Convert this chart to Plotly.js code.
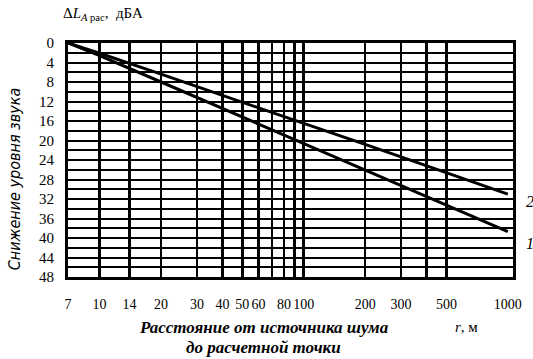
<!DOCTYPE html>
<html>
<head>
<meta charset="utf-8">
<script src="https://cdn.plot.ly/plotly-3.0.1.min.js"></script>
<style>html,body{margin:0;padding:0;background:#fff;}#chart{width:533px;height:359px;}</style>
</head>
<body>
<div id="chart"></div>
<script>
// Distance r, m
const distance = [7, 10, 20, 50, 100, 200, 500, 1000];
// Curve 1 (steeper) reduction, dBA
const curve1 = [0, 2.6, 8.0, 15.2, 20.7, 26.1, 33.3, 38.7];
// Curve 2 (shallower) reduction, dBA
const curve2 = [0, 2.1, 6.4, 12.2, 16.5, 20.8, 26.6, 31.0];
// Axis labels and grid positions
const xTickVals = [7, 10, 14, 20, 30, 40, 50, 60, 80, 100, 200, 300, 500, 1000];
const xGridVals = [10, 14, 20, 30, 40, 50, 60, 70, 80, 90, 100, 200, 300, 400, 500];
const yTickVals = [0, 4, 8, 12, 16, 20, 24, 28, 32, 36, 40, 44, 48];
const yGridVals = [2, 4, 6, 8, 10, 12, 14, 16, 18, 20, 22, 24, 26, 28, 30, 32, 34, 36, 38, 40, 42, 44, 46];
const curveNames = ['1', '2'];

const xRange = [Math.log10(7), Math.log10(1060)];
const serif = 'Liberation Serif, Times New Roman, serif';

const traces = [
  {x: [distance[0]], y: [0], xaxis: 'x2', yaxis: 'y2', mode: 'markers', marker: {opacity: 0}, hoverinfo: 'skip', showlegend: false},
  {x: distance, y: curve1, name: curveNames[0], mode: 'lines', line: {color: '#000', width: 3}, xaxis: 'x', yaxis: 'y'},
  {x: distance, y: curve2, name: curveNames[1], mode: 'lines', line: {color: '#000', width: 3}, xaxis: 'x', yaxis: 'y'}
];

const layout = {
  width: 533, height: 359,
  margin: {l: 68, r: 20, t: 43, b: 82},
  paper_bgcolor: '#fff', plot_bgcolor: '#fff',
  showlegend: false,
  font: {family: serif, color: '#000', size: 14},
  xaxis: {
    type: 'log', range: xRange,
    tickmode: 'array', tickvals: xTickVals, ticktext: xTickVals.map(String),
    showgrid: false, zeroline: false, ticks: '', ticklabelstandoff: 12, tickangle: 0,
    showline: true, linecolor: '#000', linewidth: 3, mirror: true,
    tickfont: {family: serif, size: 14, color: '#000'}
  },
  xaxis2: {
    type: 'log', range: xRange, overlaying: 'x', anchor: 'y',
    tickmode: 'array', tickvals: xGridVals, showticklabels: false, ticks: '',
    showgrid: true, gridcolor: '#000', gridwidth: 2.5, zeroline: false
  },
  yaxis: {
    range: [48, 0],
    tickmode: 'array', tickvals: yTickVals, ticktext: yTickVals.map(String),
    showgrid: false, zeroline: false, ticks: '', ticklabelstandoff: 8,
    showline: true, linecolor: '#000', linewidth: 3, mirror: true,
    tickfont: {family: serif, size: 15, color: '#000'}
  },
  yaxis2: {
    range: [48, 0], overlaying: 'y', anchor: 'x',
    tickmode: 'array', tickvals: yGridVals, showticklabels: false, ticks: '',
    showgrid: true, gridcolor: '#000', gridwidth: 2, zeroline: false
  },
  annotations: [
    {xref: 'paper', yref: 'paper', x: -0.015, y: 1.125, xanchor: 'left', yanchor: 'middle', showarrow: false,
     text: 'Δ<i>L</i><sub><i>A</i> рас</sub>,  дБА', font: {family: serif, size: 15, color: '#000'}},
    {xref: 'paper', yref: 'paper', x: -0.12, y: 0.42, xanchor: 'center', yanchor: 'middle', textangle: -90, showarrow: false,
     text: '<i>Снижение уровня звука</i>', font: {family: 'DejaVu Sans Condensed, DejaVu Sans, sans-serif', size: 16, color: '#000'}},
    {xref: 'paper', yref: 'paper', x: 0.44, y: -0.215, xanchor: 'center', yanchor: 'middle', showarrow: false,
     text: '<b><i>Расстояние от источника шума</i></b>', font: {family: serif, size: 17, color: '#000'}},
    {xref: 'paper', yref: 'paper', x: 0.44, y: -0.3, xanchor: 'center', yanchor: 'middle', showarrow: false,
     text: '<b><i>до расчетной точки</i></b>', font: {family: serif, size: 17, color: '#000'}},
    {xref: 'paper', yref: 'paper', x: 0.895, y: -0.215, xanchor: 'center', yanchor: 'middle', showarrow: false,
     text: '<i>r</i>, м', font: {family: serif, size: 15, color: '#000'}},
    {xref: 'paper', yref: 'y', x: 1.025, y: curve2[curve2.length - 1] + 1.5, xanchor: 'left', yanchor: 'middle', showarrow: false,
     text: '<i>2</i>', font: {family: serif, size: 16, color: '#000'}},
    {xref: 'paper', yref: 'y', x: 1.025, y: curve1[curve1.length - 1] + 2.5, xanchor: 'left', yanchor: 'middle', showarrow: false,
     text: '<i>1</i>', font: {family: serif, size: 16, color: '#000'}}
  ]
};

Plotly.newPlot('chart', traces, layout, {staticPlot: true, displayModeBar: false});
</script>
</body>
</html>
